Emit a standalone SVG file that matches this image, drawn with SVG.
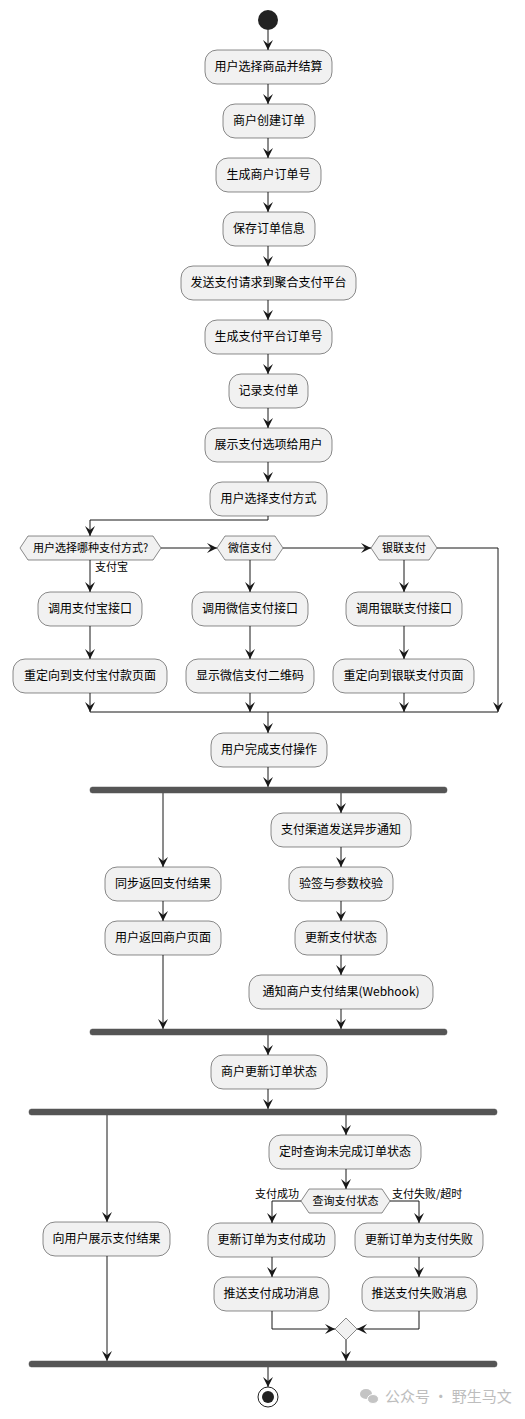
<svg xmlns="http://www.w3.org/2000/svg" width="525" height="1419" viewBox="0 0 525 1419">
<style>
.box{fill:#F1F1F1;stroke:#181818;stroke-width:0.5}
.t{font-family:"Noto Sans CJK SC","Noto Sans",sans-serif;font-size:12px;fill:#000;text-anchor:middle}
.ts{font-family:"Noto Sans CJK SC","Noto Sans",sans-serif;font-size:11px;fill:#000}
.c{fill:none;stroke:#181818;stroke-width:1}
.a{marker-end:url(#ah)}
.bar{fill:#555555;stroke:#555555;stroke-width:0.5}
</style>
<defs>
<marker id="ah" markerUnits="userSpaceOnUse" markerWidth="10" markerHeight="10" refX="10" refY="5" orient="auto">
<path d="M0,0 L10,5 L0,10 L4,5 Z" fill="#181818"/>
</marker>
</defs>
<rect width="525" height="1419" fill="#fff"/>
<g id="connectors">
<path class="c a" d="M268,30 V50"/>
<path class="c a" d="M268,84 V104"/>
<path class="c a" d="M268,138 V158"/>
<path class="c a" d="M268,192 V212"/>
<path class="c a" d="M268,246 V266"/>
<path class="c a" d="M268,300 V320"/>
<path class="c a" d="M268,354 V374"/>
<path class="c a" d="M268,408 V428"/>
<path class="c a" d="M268,462 V482"/>
<path class="c a" d="M268,516 V520 H90 V536"/>
<path class="c a" d="M161,548 H217"/>
<path class="c a" d="M283,548 H371"/>
<path class="c a" d="M437,548 H498 V712"/>
<path class="c a" d="M90,560 V592"/>
<path class="c a" d="M90,626 V659"/>
<path class="c a" d="M90,693 V712"/>
<path class="c a" d="M250,560 V592"/>
<path class="c a" d="M250,626 V659"/>
<path class="c a" d="M250,693 V712"/>
<path class="c a" d="M404,560 V592"/>
<path class="c a" d="M404,626 V659"/>
<path class="c a" d="M404,693 V712"/>
<path class="c" d="M90,712 H498"/>
<path class="c a" d="M268,712 V733"/>
<path class="c a" d="M268,767 V787"/>
<path class="c a" d="M163,793 V867"/>
<path class="c a" d="M163,901 V921"/>
<path class="c a" d="M163,955 V1029"/>
<path class="c a" d="M341,793 V813"/>
<path class="c a" d="M341,847 V867"/>
<path class="c a" d="M341,901 V921"/>
<path class="c a" d="M341,955 V975"/>
<path class="c a" d="M341,1009 V1029"/>
<path class="c a" d="M268,1035 V1055"/>
<path class="c a" d="M268,1089 V1109"/>
<path class="c a" d="M107,1115 V1222"/>
<path class="c a" d="M107,1256 V1361"/>
<path class="c a" d="M346,1115 V1135"/>
<path class="c a" d="M346,1169 V1189"/>
<path class="c a" d="M301,1201 H272 V1223"/>
<path class="c a" d="M390,1201 H419 V1223"/>
<path class="c a" d="M272,1257 V1277"/>
<path class="c a" d="M419,1257 V1277"/>
<path class="c a" d="M272,1311 V1329 H335"/>
<path class="c a" d="M419,1311 V1329 H357"/>
<path class="c a" d="M346,1340 V1361"/>
<path class="c a" d="M268,1367 V1387"/>
<text class="ts" x="95" y="571">支付宝</text>
<text class="ts" x="299" y="1198" text-anchor="end">支付成功</text>
<text class="ts" x="392" y="1198">支付失败/超时</text>
</g>
<g id="start"><circle cx="268" cy="20" r="10" fill="#222"/></g>
<g id="n1"><rect class="box" x="205" y="50" width="127" height="34" rx="12"/><text class="t" x="268.5" y="71">用户选择商品并结算</text></g>
<g id="n2"><rect class="box" x="223" y="104" width="92" height="34" rx="12"/><text class="t" x="269" y="125">商户创建订单</text></g>
<g id="n3"><rect class="box" x="216" y="158" width="105" height="34" rx="12"/><text class="t" x="268.5" y="179">生成商户订单号</text></g>
<g id="n4"><rect class="box" x="223" y="212" width="92" height="34" rx="12"/><text class="t" x="269" y="233">保存订单信息</text></g>
<g id="n5"><rect class="box" x="181" y="266" width="175" height="34" rx="12"/><text class="t" x="268.5" y="287">发送支付请求到聚合支付平台</text></g>
<g id="n6"><rect class="box" x="205" y="320" width="127" height="34" rx="12"/><text class="t" x="268.5" y="341">生成支付平台订单号</text></g>
<g id="n7"><rect class="box" x="229" y="374" width="79" height="34" rx="12"/><text class="t" x="268.5" y="395">记录支付单</text></g>
<g id="n8"><rect class="box" x="205" y="428" width="127" height="34" rx="12"/><text class="t" x="268.5" y="449">展示支付选项给用户</text></g>
<g id="n9"><rect class="box" x="210" y="482" width="117" height="34" rx="12"/><text class="t" x="268.5" y="503">用户选择支付方式</text></g>
<g id="d1"><polygon class="box" points="20,548 28,536 153,536 161,548 153,560 28,560"/><text class="t" style="font-size:11px" x="90.5" y="552">用户选择哪种支付方式?</text></g>
<g id="d2"><polygon class="box" points="217,548 225,536 275,536 283,548 275,560 225,560"/><text class="t" style="font-size:11px" x="250" y="552">微信支付</text></g>
<g id="d3"><polygon class="box" points="371,548 379,536 429,536 437,548 429,560 379,560"/><text class="t" style="font-size:11px" x="404" y="552">银联支付</text></g>
<g id="a1"><rect class="box" x="38" y="592" width="104" height="34" rx="12"/><text class="t" x="90" y="613">调用支付宝接口</text></g>
<g id="a2"><rect class="box" x="13" y="659" width="154" height="34" rx="12"/><text class="t" x="90" y="680">重定向到支付宝付款页面</text></g>
<g id="w1"><rect class="box" x="192" y="592" width="116" height="34" rx="12"/><text class="t" x="250" y="613">调用微信支付接口</text></g>
<g id="w2"><rect class="box" x="186" y="659" width="128" height="34" rx="12"/><text class="t" x="250" y="680">显示微信支付二维码</text></g>
<g id="u1"><rect class="box" x="346" y="592" width="116" height="34" rx="12"/><text class="t" x="404" y="613">调用银联支付接口</text></g>
<g id="u2"><rect class="box" x="333" y="659" width="141" height="34" rx="12"/><text class="t" x="403.5" y="680">重定向到银联支付页面</text></g>
<g id="n10"><rect class="box" x="211" y="733" width="116" height="34" rx="12"/><text class="t" x="269" y="754">用户完成支付操作</text></g>
<g id="fork1"><rect class="bar" x="90" y="787" width="357" height="6" rx="2.5"/></g>
<g id="s1"><rect class="box" x="105" y="867" width="116" height="34" rx="12"/><text class="t" x="163" y="888">同步返回支付结果</text></g>
<g id="s2"><rect class="box" x="105" y="921" width="116" height="34" rx="12"/><text class="t" x="163" y="942">用户返回商户页面</text></g>
<g id="r1"><rect class="box" x="271" y="813" width="140" height="34" rx="12"/><text class="t" x="341" y="834">支付渠道发送异步通知</text></g>
<g id="r2"><rect class="box" x="289" y="867" width="104" height="34" rx="12"/><text class="t" x="341" y="888">验签与参数校验</text></g>
<g id="r3"><rect class="box" x="295" y="921" width="92" height="34" rx="12"/><text class="t" x="341" y="942">更新支付状态</text></g>
<g id="r4"><rect class="box" x="249" y="975" width="184" height="34" rx="12"/><text class="t" x="341" y="996">通知商户支付结果(Webhook)</text></g>
<g id="join1"><rect class="bar" x="90" y="1029" width="357" height="6" rx="2.5"/></g>
<g id="n11"><rect class="box" x="211" y="1055" width="116" height="34" rx="12"/><text class="t" x="269" y="1076">商户更新订单状态</text></g>
<g id="fork2"><rect class="bar" x="29" y="1109" width="468" height="6" rx="2.5"/></g>
<g id="l1"><rect class="box" x="43" y="1222" width="127" height="34" rx="12"/><text class="t" x="106.5" y="1243">向用户展示支付结果</text></g>
<g id="q1"><rect class="box" x="269" y="1135" width="152" height="34" rx="12"/><text class="t" x="345" y="1156">定时查询未完成订单状态</text></g>
<g id="d4"><polygon class="box" points="301,1201 309,1189 382,1189 390,1201 382,1213 309,1213"/><text class="t" style="font-size:11px" x="345.5" y="1205">查询支付状态</text></g>
<g id="p1"><rect class="box" x="208" y="1223" width="127" height="34" rx="12"/><text class="t" x="271.5" y="1244">更新订单为支付成功</text></g>
<g id="p2"><rect class="box" x="355" y="1223" width="128" height="34" rx="12"/><text class="t" x="419" y="1244">更新订单为支付失败</text></g>
<g id="p3"><rect class="box" x="214" y="1277" width="115" height="34" rx="12"/><text class="t" x="271.5" y="1298">推送支付成功消息</text></g>
<g id="p4"><rect class="box" x="362" y="1277" width="115" height="34" rx="12"/><text class="t" x="419.5" y="1298">推送支付失败消息</text></g>
<g id="merge"><polygon class="box" points="346,1318 357,1329 346,1340 335,1329"/></g>
<g id="join2"><rect class="bar" x="29" y="1361" width="468" height="6" rx="2.5"/></g>
<g id="end"><circle cx="268" cy="1397" r="10" fill="#fff" stroke="#222" stroke-width="1"/><circle cx="268" cy="1397" r="6" fill="#222"/></g>
<g id="watermark">
<ellipse cx="366" cy="1394" rx="6" ry="5" fill="#c4c4c4"/>
<ellipse cx="373" cy="1399" rx="5.5" ry="4.5" fill="#c4c4c4" stroke="#fff" stroke-width="1"/>
<text x="385" y="1402" style="font-family:'Noto Sans CJK SC','Noto Sans',sans-serif;font-size:15px;fill:#bdbdbd">公众号 · 野生马文</text>
</g>
</svg>
